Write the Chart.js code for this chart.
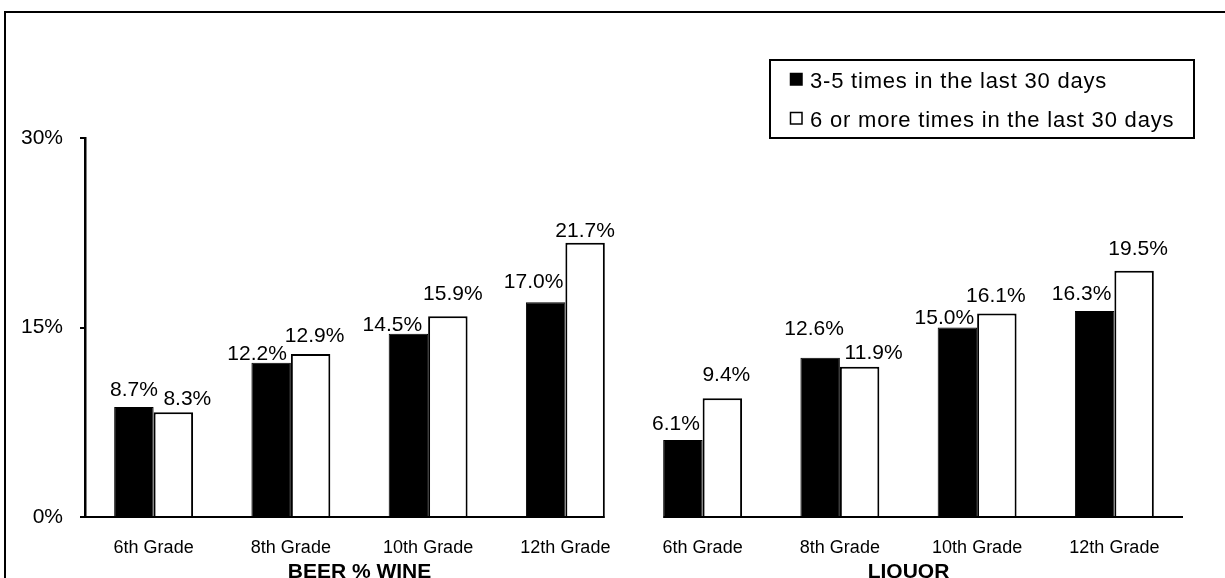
<!DOCTYPE html>
<html><head><meta charset="utf-8">
<script src="https://cdn.jsdelivr.net/npm/chart.js@4.4.1/dist/chart.umd.min.js"></script>
<style>html,body{margin:0;padding:0;background:#fff;overflow:hidden;} canvas{display:block;}</style>
</head><body>
<canvas id="c" width="1225" height="578"></canvas>
<script>
// ---- data ----
const categories = ['6th Grade','8th Grade','10th Grade','12th Grade','6th Grade','8th Grade','10th Grade','12th Grade'];
const groupNames = ['BEER % WINE','LIQUOR'];
const groupSizes = [4,4];
const seriesNames = ['3-5 times in the last 30 days','6 or more times in the last 30 days'];
const times3to5 = [8.7,12.2,14.5,17.0,6.1,12.6,15.0,16.3];
const times6plus = [8.3,12.9,15.9,21.7,9.4,11.9,16.1,19.5];
const yTicks = [0,15,30];

// ---- style (label placement tweaks, as in the original) ----
const labelDx  = [[0,-14,-16,-12,-7,-6,-13,-13],[14,4,5,0,4,14,-1,4]];
const labelGap = [[11,3,3,14,10,23,4,11],[7,12,16,6,17,8,12,16]];
const FONT = "'Liberation Sans', Arial, sans-serif";

const framePlugin = {
  id:'frame',
  afterDraw(chart){
    const ctx = chart.ctx, ca = chart.chartArea;
    const m0 = chart.getDatasetMeta(0), m1 = chart.getDatasetMeta(1);
    ctx.save();
    // outer border
    ctx.strokeStyle='#000'; ctx.lineWidth=2;
    ctx.beginPath(); ctx.moveTo(5,600); ctx.lineTo(5,12); ctx.lineTo(1240,12); ctx.stroke();
    // broken x axis + group titles
    let start = 0;
    groupSizes.forEach((n,gi)=>{
      const first = start, last = start + n - 1;
      const x0 = gi===0 ? ca.left - 1 : m0.data[first].x - m0.data[first].width/2;
      const x1 = gi===groupSizes.length-1 ? ca.right : m1.data[last].x + m1.data[last].width/2;
      ctx.beginPath(); ctx.lineWidth=2; ctx.moveTo(x0, ca.bottom); ctx.lineTo(x1, ca.bottom); ctx.stroke();
      const xs = chart.scales.x;
      const cx = (xs.getPixelForValue(first) + xs.getPixelForValue(last))/2;
      ctx.fillStyle='#000'; ctx.font = "bold 21px " + FONT;
      ctx.textAlign='center'; ctx.textBaseline='alphabetic';
      ctx.fillText(groupNames[gi], cx, 578);
      start += n;
    });
    // data labels
    ctx.font = "21px " + FONT; ctx.textAlign='center'; ctx.textBaseline='alphabetic'; ctx.fillStyle='#000';
    chart.data.datasets.forEach((ds,di)=>{
      const meta = chart.getDatasetMeta(di);
      meta.data.forEach((bar,i)=>{
        ctx.fillText(ds.data[i].toFixed(1)+'%', bar.x + labelDx[di][i], bar.y - labelGap[di][i]);
      });
    });
    // legend
    ctx.lineWidth=2; ctx.strokeStyle='#000';
    ctx.strokeRect(770,60,424,78);
    ctx.font = "22px " + FONT; ctx.textAlign='left';
    if ('letterSpacing' in ctx) ctx.letterSpacing = '0.8px';
    chart.data.datasets.forEach((ds,di)=>{
      const yb = 88 + di*39;
      ctx.fillStyle = ds.backgroundColor;
      ctx.fillRect(790, yb-15, 12, 12);
      ctx.lineWidth = 1.5; ctx.strokeStyle='#000';
      ctx.strokeRect(790.5, yb-14.5, 11.5, 11.5);
      ctx.fillStyle='#000';
      ctx.fillText(ds.label, 810, yb);
    });
    ctx.restore();
  }
};

new Chart(document.getElementById('c'), {
  type:'bar',
  data:{
    labels: categories,
    datasets:[
      {label: seriesNames[0], data: times3to5, backgroundColor:'#000', borderColor:'#000', borderWidth:1, borderSkipped:'bottom'},
      {label: seriesNames[1], data: times6plus, backgroundColor:'#fff', borderColor:'#000', borderWidth:2, borderSkipped:'bottom'}
    ]
  },
  options:{
    responsive:false, animation:false, devicePixelRatio:1,
    layout:{padding:{left:0, top:138, right:42, bottom:0}},
    datasets:{bar:{categoryPercentage:0.575, barPercentage:1}},
    plugins:{legend:{display:false}, tooltip:{enabled:false}, title:{display:false}},
    scales:{
      x:{
        grid:{display:false, drawTicks:false},
        border:{display:false},
        ticks:{color:'#000', font:{family:FONT, size:18}, padding:20, maxRotation:0, autoSkip:false},
        afterFit(s){ s.height = 61; }
      },
      y:{
        min:0, max:30,
        afterBuildTicks(s){ s.ticks = yTicks.map(v=>({value:v})); },
        grid:{drawOnChartArea:false, drawTicks:true, tickLength:5, color:'#000', lineWidth:2},
        border:{display:true, color:'#000', width:2.5},
        ticks:{color:'#000', font:{family:FONT, size:21}, padding:17, callback:v=>v+'%'},
        afterFit(s){ s.width = 85; }
      }
    }
  },
  plugins:[framePlugin]
});
</script>
</body></html>
